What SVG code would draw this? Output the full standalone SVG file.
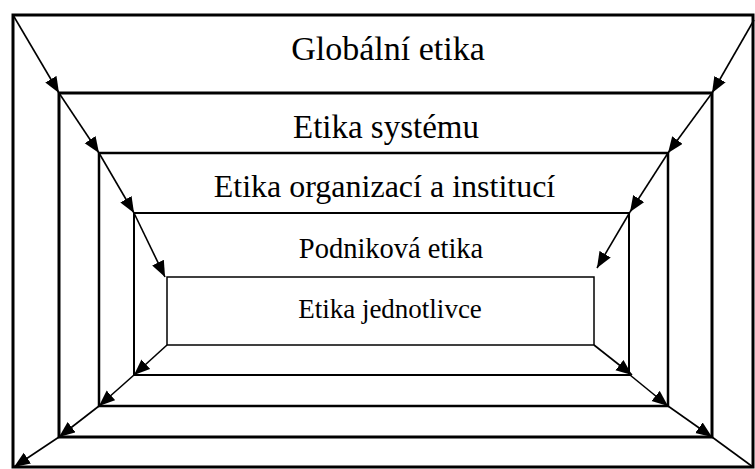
<svg xmlns="http://www.w3.org/2000/svg" width="755" height="469" viewBox="0 0 755 469">
<style>
.box{fill:none;stroke:#000}
.lbl{font-family:"Liberation Serif","Times New Roman",serif;fill:#000;text-anchor:middle}
.arr{stroke:#000;stroke-width:1.6;fill:none}
</style>
<defs>
<marker id="ah" markerUnits="userSpaceOnUse" markerWidth="17" markerHeight="14" refX="16" refY="6.5" orient="auto">
<path d="M0,0 L16,6.5 L0,13 z" fill="#000"/>
</marker>
</defs>
<rect width="755" height="469" fill="#fff"/>
<g id="n1"><rect class="box" x="13" y="15" width="740" height="452" stroke-width="3"/><text class="lbl" x="388" y="60" font-size="34">Globální etika</text></g>
<g id="n2"><rect class="box" x="59" y="93" width="653" height="344" stroke-width="3"/><text class="lbl" x="386" y="138" font-size="33">Etika systému</text></g>
<g id="n3"><rect class="box" x="99" y="153" width="569" height="253" stroke-width="2.5"/><text class="lbl" x="384.5" y="197" font-size="32">Etika organizací a institucí</text></g>
<g id="n4"><rect class="box" x="134" y="213" width="495" height="162" stroke-width="2"/><text class="lbl" x="391" y="258" font-size="28.5">Podniková etika</text></g>
<g id="n5"><rect class="box" x="167" y="277" width="427" height="68" stroke-width="1.5"/><text class="lbl" x="390" y="318" font-size="27">Etika jednotlivce</text></g>
<g id="connectors" class="arr" marker-end="url(#ah)">
<line x1="13" y1="15" x2="59" y2="93"/>
<line x1="59" y1="93" x2="99" y2="153"/>
<line x1="99" y1="153" x2="134" y2="213"/>
<line x1="134" y1="213" x2="165" y2="277"/>
<line x1="754" y1="20" x2="712" y2="93"/>
<line x1="712" y1="93" x2="668" y2="153"/>
<line x1="668" y1="153" x2="630" y2="212"/>
<line x1="630" y1="212" x2="597" y2="268"/>
<line x1="167" y1="345" x2="134" y2="375"/>
<line x1="134" y1="375" x2="99" y2="406"/>
<line x1="99" y1="406" x2="59" y2="437"/>
<line x1="59" y1="437" x2="14" y2="467"/>
<line x1="594" y1="345" x2="632" y2="375"/>
<line x1="630" y1="375" x2="668" y2="406"/>
<line x1="668" y1="406" x2="712" y2="437"/>
<line x1="712" y1="437" x2="753" y2="467" marker-end="none"/>
</g>
</svg>
